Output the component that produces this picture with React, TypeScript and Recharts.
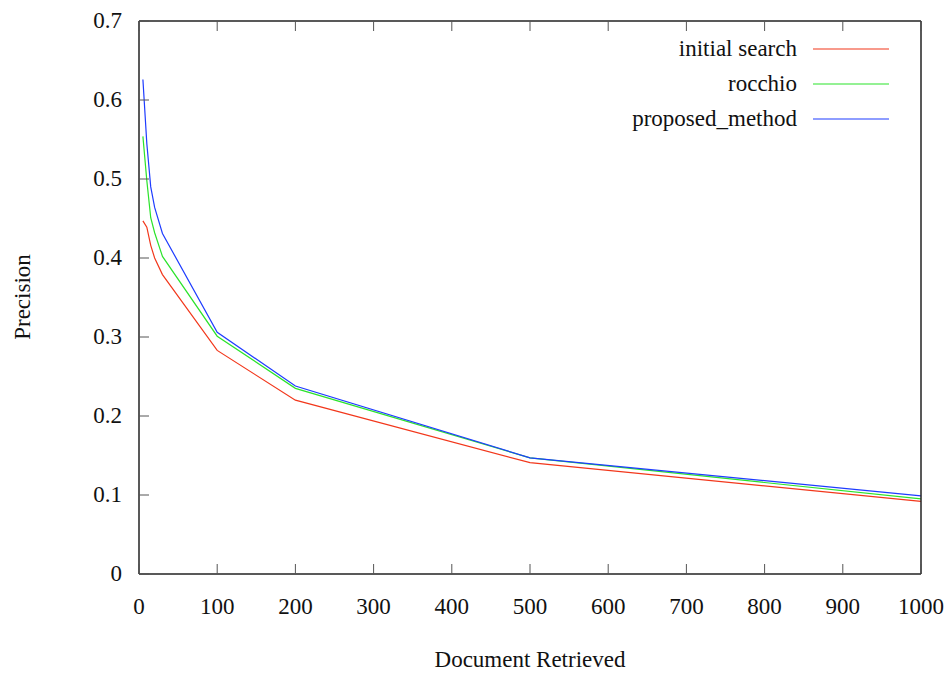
import { LineChart, Line, XAxis, YAxis } from "recharts";

// Precision at N documents retrieved, three retrieval runs (gnuplot look-alike).

const DOCS = [5, 10, 15, 20, 30, 100, 200, 500, 1000];
const INITIAL = [0.447, 0.439, 0.416, 0.4, 0.379, 0.283, 0.22, 0.141, 0.092];
const ROCCHIO = [0.554, 0.498, 0.451, 0.432, 0.402, 0.301, 0.235, 0.147, 0.095];
const PROPOSED = [0.626, 0.545, 0.49, 0.464, 0.431, 0.306, 0.238, 0.147, 0.099];

const X_TICKS = [0, 100, 200, 300, 400, 500, 600, 700, 800, 900, 1000];
const Y_TICKS = [0, 0.1, 0.2, 0.3, 0.4, 0.5, 0.6, 0.7];

const SERIES = [
  { key: "initial", name: "initial search", color: "#f2371b" },
  { key: "rocchio", name: "rocchio", color: "#2be32b" },
  { key: "proposed", name: "proposed_method", color: "#1e3cff" },
];

const rows = DOCS.map((d, i) => ({
  docs: d,
  initial: INITIAL[i],
  rocchio: ROCCHIO[i],
  proposed: PROPOSED[i],
}));

const W = 952;
const H = 675;
const FONT = '"Liberation Serif", serif';
const FS = 23;
const TICK = 10;
const TICK_COLOR = "#555";
const BORDER = { stroke: "#222", strokeWidth: 1.5 };

function yLabel(v: number): string {
  return v === 0 ? "0" : v.toFixed(1);
}

function BottomTick({ x, y, payload }: any) {
  return (
    <g>
      <line x1={x} y1={y} x2={x} y2={y - TICK} stroke={TICK_COLOR} />
      <text x={x} y={y + 40} textAnchor="middle" fontFamily={FONT} fontSize={FS} fill="#111">
        {payload.value}
      </text>
    </g>
  );
}

function TopTick({ x, y }: any) {
  return <line x1={x} y1={y} x2={x} y2={y + TICK} stroke={TICK_COLOR} />;
}

function LeftTick({ x, y, payload }: any) {
  return (
    <g>
      <line x1={x} y1={y} x2={x + TICK} y2={y} stroke={TICK_COLOR} />
      <text x={x - 17} y={y + 7} textAnchor="end" fontFamily={FONT} fontSize={FS} fill="#111">
        {yLabel(payload.value)}
      </text>
    </g>
  );
}

function RightTick({ x, y }: any) {
  return <line x1={x} y1={y} x2={x - TICK} y2={y} stroke={TICK_COLOR} />;
}

export default function App() {
  return (
    <div style={{ position: "absolute", left: 0, top: 0, width: W, height: H, background: "#fff" }}>
      <LineChart width={W} height={H} data={rows} margin={{ top: 20, right: 30, bottom: 41, left: 59 }}>
        <XAxis
          dataKey="docs"
          type="number"
          domain={[0, 1000]}
          ticks={X_TICKS}
          height={60}
          tickSize={0}
          tickMargin={0}
          tickLine={false}
          axisLine={BORDER}
          tick={<BottomTick />}
          interval={0}
          label={{
            content: () => (
              <text x={530} y={667} textAnchor="middle" fontFamily={FONT} fontSize={FS} fill="#111">
                Document Retrieved
              </text>
            ),
          }}
        />
        <XAxis
          xAxisId="top"
          orientation="top"
          dataKey="docs"
          type="number"
          domain={[0, 1000]}
          ticks={X_TICKS}
          height={1}
          tickSize={0}
          tickMargin={0}
          tickLine={false}
          axisLine={BORDER}
          tick={<TopTick />}
          interval={0}
        />
        <YAxis
          type="number"
          domain={[0, 0.7]}
          ticks={Y_TICKS}
          width={80}
          tickSize={0}
          tickMargin={0}
          tickLine={false}
          axisLine={BORDER}
          tick={<LeftTick />}
          interval={0}
          label={{
            content: () => (
              <text
                transform="translate(30,297) rotate(-90)"
                textAnchor="middle"
                fontFamily={FONT}
                fontSize={FS}
                fill="#111"
              >
                Precision
              </text>
            ),
          }}
        />
        <YAxis
          yAxisId="right"
          orientation="right"
          type="number"
          domain={[0, 0.7]}
          ticks={Y_TICKS}
          width={1}
          tickSize={0}
          tickMargin={0}
          tickLine={false}
          axisLine={BORDER}
          tick={<RightTick />}
          interval={0}
        />
        {SERIES.map((s) => (
          <Line
            key={s.key}
            type="linear"
            dataKey={s.key}
            name={s.name}
            stroke={s.color}
            strokeWidth={1.2}
            dot={false}
            isAnimationActive={false}
          />
        ))}
      </LineChart>
      <svg width={W} height={H} style={{ position: "absolute", left: 0, top: 0, pointerEvents: "none" }}>
        {SERIES.map((s, i) => (
          <g key={s.key}>
            <text x={797} y={56 + i * 35} textAnchor="end" fontFamily={FONT} fontSize={FS} fill="#111">
              {s.name}
            </text>
            <line x1={813} y1={49 + i * 35} x2={889} y2={49 + i * 35} stroke={s.color} strokeWidth={1.2} />
          </g>
        ))}
      </svg>
    </div>
  );
}
